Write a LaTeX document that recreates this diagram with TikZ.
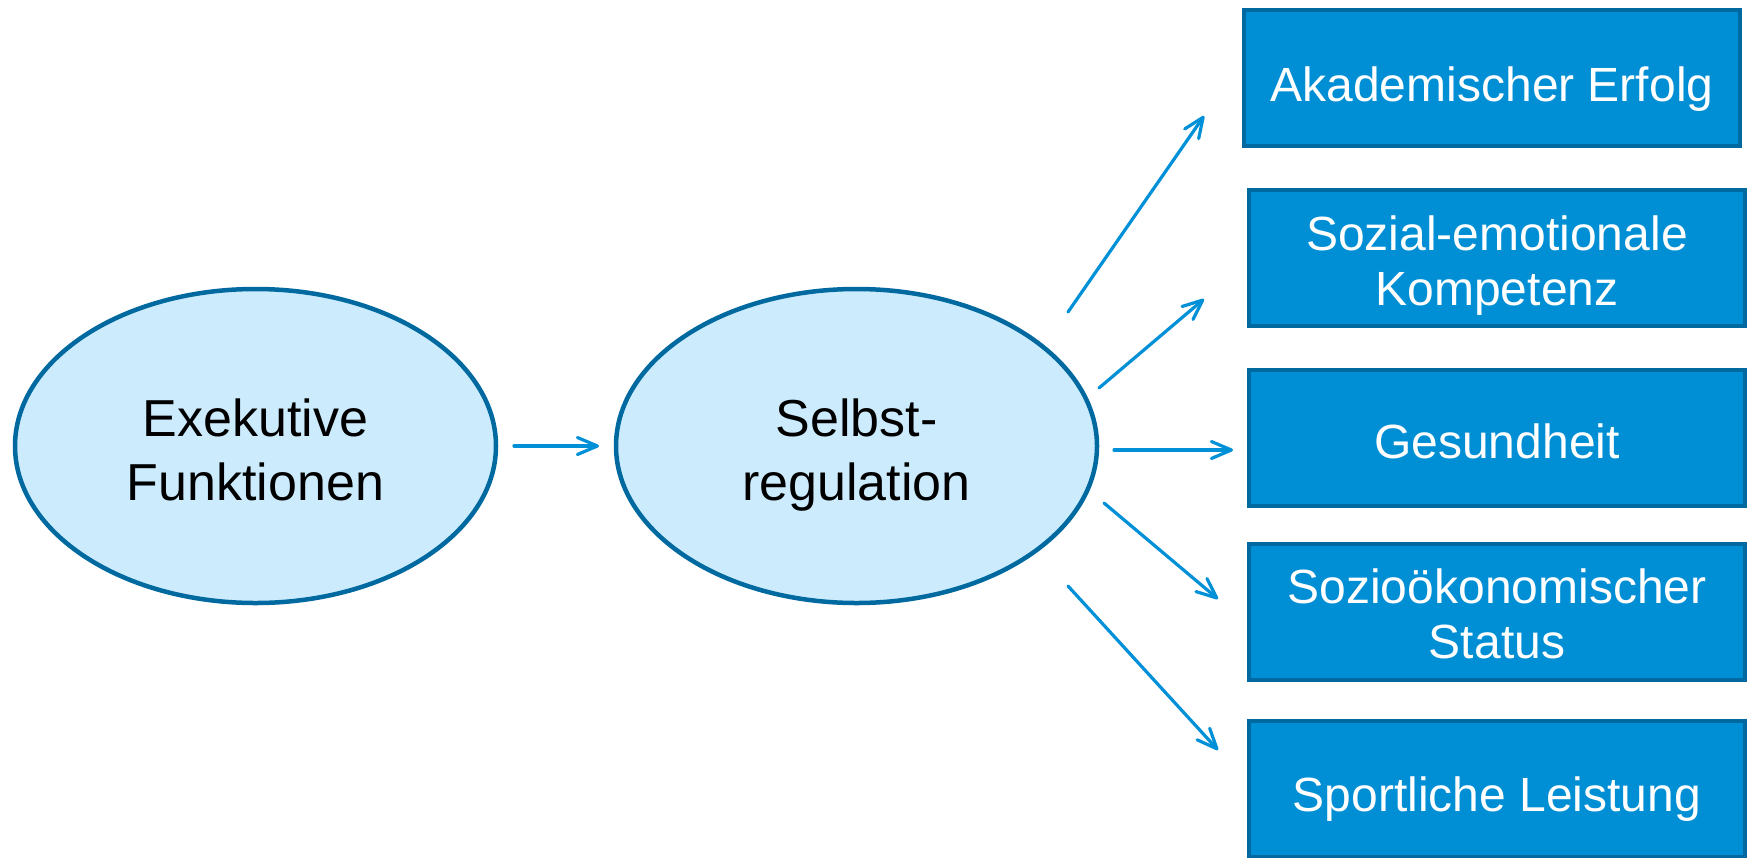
\documentclass[tikz,border=0pt]{standalone}
\usepackage{fontspec}
\setmainfont{Liberation Sans}
\usetikzlibrary{arrows.meta,shapes.geometric}
\definecolor{boxfill}{HTML}{008FD5}
\definecolor{boxline}{HTML}{006AA0}
\definecolor{ovalfill}{HTML}{CCEBFD}
\definecolor{ovalline}{HTML}{0069A0}
\definecolor{arrowcol}{HTML}{0090D8}
\tikzset{
  oval/.style={ellipse, draw=ovalline, fill=ovalfill, line width=4.5pt,
    minimum width=481pt, minimum height=314pt, inner sep=0pt},
  ovaltext/.style={align=center, inner sep=0pt,
    font=\fontsize{52}{64}\selectfont, text=black},
  outcome/.style={rectangle, draw=boxline, fill=boxfill, line width=4pt,
    minimum width=496pt, minimum height=136pt, inner sep=0pt},
  outtext/.style={align=center, inner sep=0pt,
    font=\fontsize{48}{55}\selectfont, text=white},
  link/.style={draw=arrowcol, line width=3.2pt, line cap=round,
    -{Straight Barb[length=20pt,width=17pt,line cap=round,line join=round]}}
}
\begin{document}
\begin{tikzpicture}[x=1pt,y=-1pt]
  \useasboundingbox (0,0) rectangle (1750,857);
  \clip (0,0) rectangle (1750,857);

  % causal chain on the left
  \node[oval] (ef) at (255.5,446) {};
  \node[oval] (sr) at (856.5,446) {};
  \node[ovaltext] (ef-t) at ([yshift=-4pt]ef.center) {Exekutive\\Funktionen};
  \node[ovaltext] (sr-t) at ([yshift=-9pt]sr.center) {Selbst-\\regulation};

  % outcome boxes on the right
  \node[outcome] (ak) at (1492,78)    {};
  \node[outcome] (se) at (1497,258)   {};
  \node[outcome] (ge) at (1497,438)   {};
  \node[outcome] (so) at (1497,611.5) {};
  \node[outcome] (sp) at (1497,789)   {};
  \node[outtext] (ak-t) at ([yshift=-11pt]ak.center) {Akademischer Erfolg};
  \node[outtext] (se-t) at ([yshift=-8pt]se.center)  {Sozial-emotionale\\Kompetenz};
  \node[outtext] (ge-t) at ([yshift=-3pt]ge.center)  {Gesundheit};
  \node[outtext] (so-t) at ([yshift=-2pt]so.center)  {Sozioökonomischer\\Status};
  \node[outtext] (sp-t) at ([yshift=-10pt]sp.center) {Sportliche Leistung};

  % arrow end points
  \coordinate (a0s) at (514,446);  \coordinate (a0e) at (599,446);
  \coordinate (a1s) at (1068,312); \coordinate (a1e) at (1204,116);
  \coordinate (a2s) at (1099,388); \coordinate (a2e) at (1204,299);
  \coordinate (a3s) at (1114,450); \coordinate (a3e) at (1233,450);
  \coordinate (a4s) at (1104,503); \coordinate (a4e) at (1218,599);
  \coordinate (a5s) at (1068,586); \coordinate (a5e) at (1218,750);

  \draw[link] (a0s) -- (a0e);
  \draw[link] (a1s) -- (a1e);
  \draw[link] (a2s) -- (a2e);
  \draw[link] (a3s) -- (a3e);
  \draw[link] (a4s) -- (a4e);
  \draw[link] (a5s) -- (a5e);
\end{tikzpicture}
\end{document}
